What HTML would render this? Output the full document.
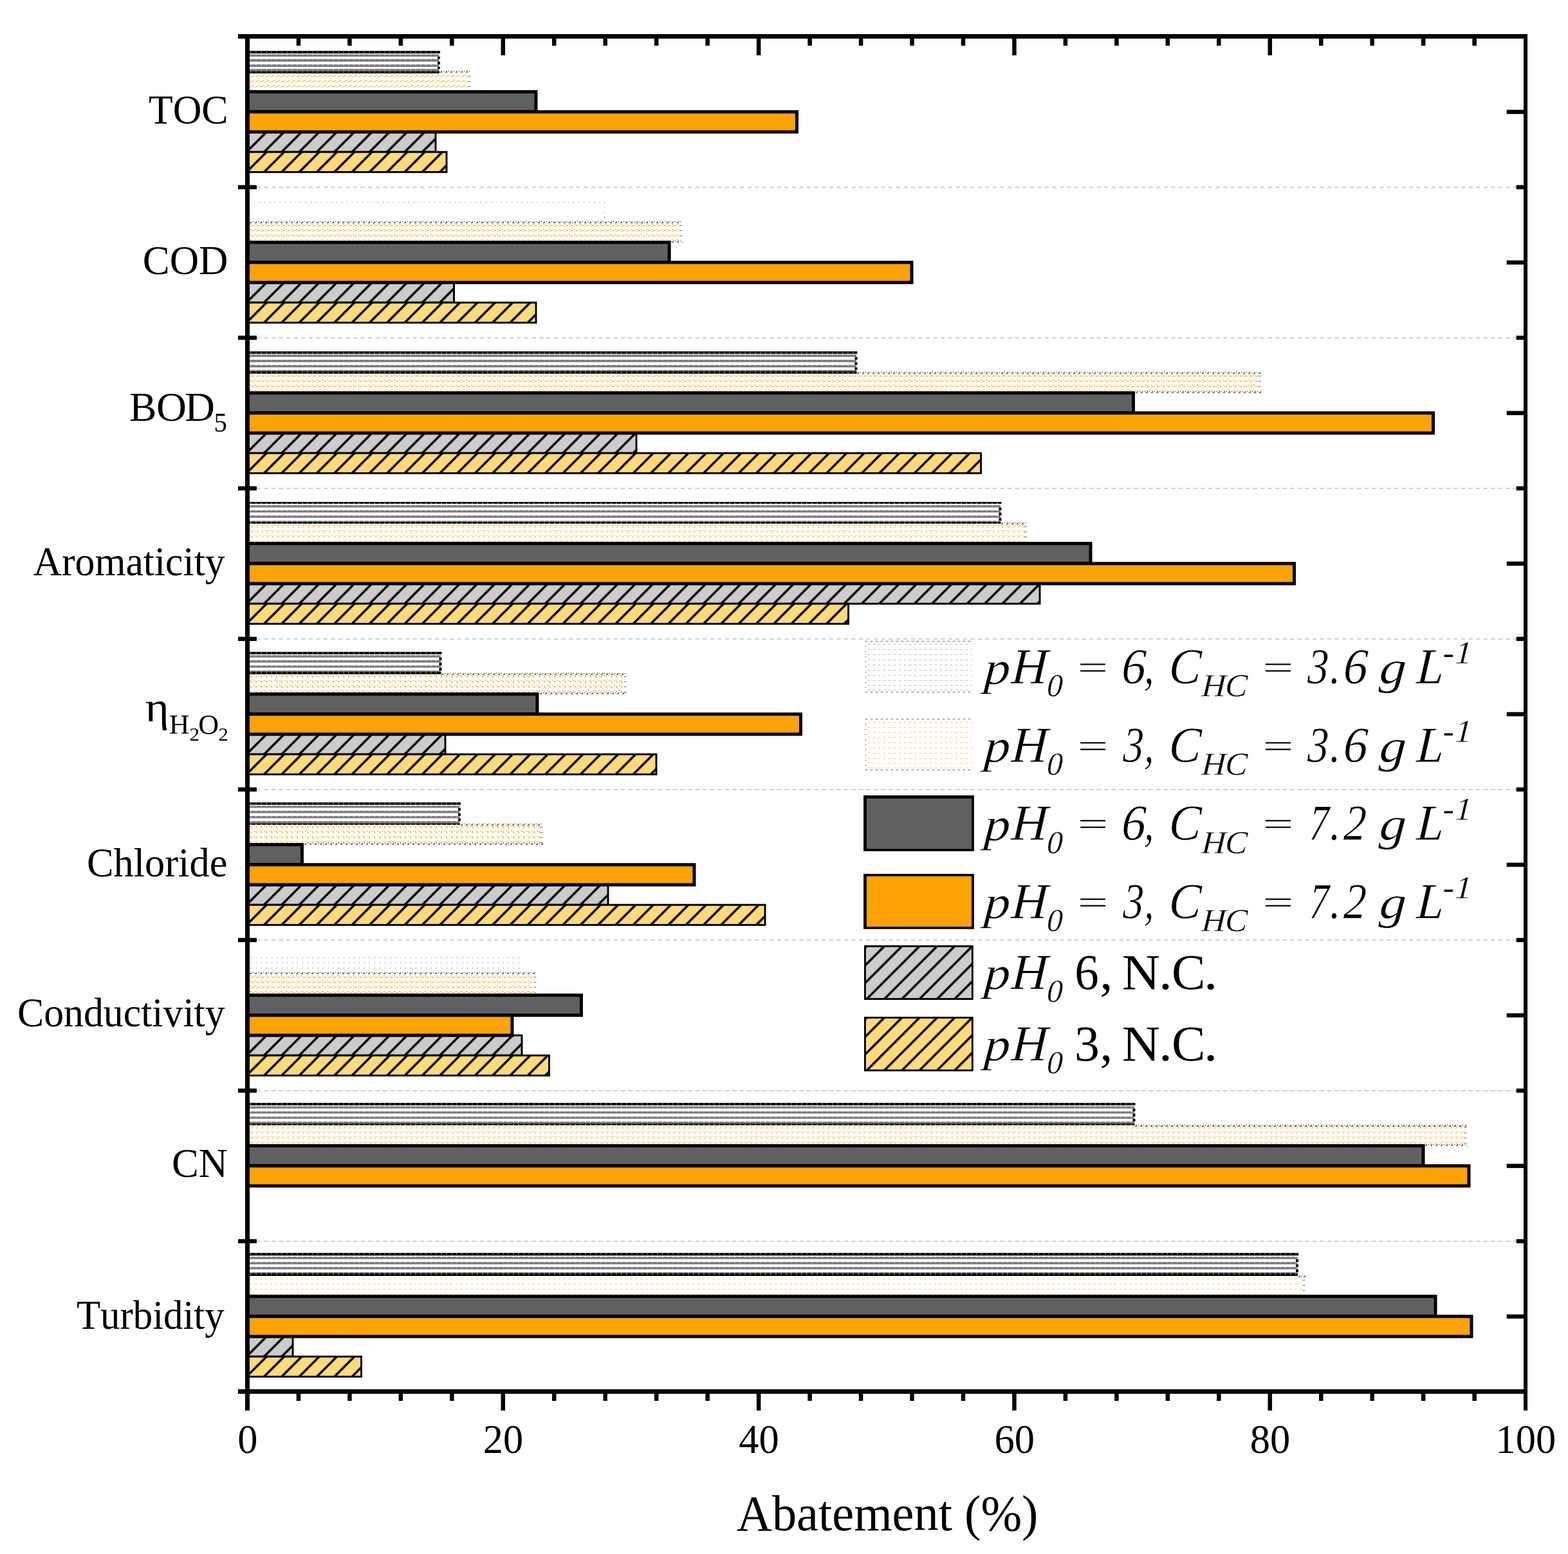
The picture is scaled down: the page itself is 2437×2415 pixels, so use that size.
<!DOCTYPE html>
<html lang="en"><head><meta charset="utf-8"><title>Abatement (%)</title>
<style>
html,body{margin:0;padding:0;background:#fff;}
body{width:2437px;height:2415px;}
svg{display:block;}
text{font-family:"Liberation Serif","DejaVu Serif",serif;fill:#000;font-kerning:none;white-space:pre;}
.it{font-style:italic;stroke:#fff;stroke-width:0.007em;}
</style></head><body>
<svg width="2437" height="2415" viewBox="0 0 2437 2415">
<defs>
<pattern id="hatch" patternUnits="userSpaceOnUse" x="0" y="0" width="27.32" height="27.32">
<path d="M-27.32 27.32 L27.32 -27.32 M0 27.32 L27.32 0 M0 54.64 L54.64 0" stroke="#000" stroke-width="3.5" fill="none" stroke-linecap="square"/>
</pattern>
<pattern id="oA" patternUnits="userSpaceOnUse" x="0" y="0" width="8" height="8">
<rect x="1" y="3" width="1" height="1" fill="#FCA203"/><rect x="2" y="2" width="1" height="1" fill="#FCA203"/><rect x="3" y="2" width="1" height="1" fill="#FCA203"/><rect x="4" y="1" width="1" height="1" fill="#FCA203"/><rect x="5" y="1" width="1" height="1" fill="#FCA203"/><rect x="6" y="0" width="1" height="1" fill="#FCA203"/><rect x="7" y="3" width="1" height="1" fill="#FCA203"/>
</pattern>
<pattern id="oB" patternUnits="userSpaceOnUse" x="0" y="0" width="8" height="8">
<rect x="0" y="0" width="1" height="1" fill="#FCA203"/><rect x="1" y="0" width="1" height="1" fill="#FCA203"/><rect x="3" y="1" width="1" height="1" fill="#FCA203"/><rect x="4" y="2" width="1" height="1" fill="#FCA203"/><rect x="5" y="2" width="1" height="1" fill="#FCA203"/><rect x="6" y="2" width="1" height="1" fill="#FCA203"/><rect x="3" y="3" width="1" height="1" fill="#FCA203"/><rect x="1" y="3" width="1" height="1" fill="#FCA203"/>
</pattern>
<pattern id="oC" patternUnits="userSpaceOnUse" x="0" y="0" width="8" height="8">
<rect x="1" y="0" width="1" height="1" fill="#FCA203"/><rect x="6" y="0" width="1" height="1" fill="#FCA203"/><rect x="3" y="1" width="1" height="1" fill="#FCA203"/><rect x="4" y="1" width="1" height="1" fill="#FCA203"/><rect x="2" y="3" width="1" height="1" fill="#FCA203"/><rect x="4" y="3" width="1" height="1" fill="#FCA203"/>
</pattern>
<pattern id="oD" patternUnits="userSpaceOnUse" x="0" y="0" width="8" height="8">
<rect x="6" y="0" width="1" height="1" fill="#FCA203"/><rect x="7" y="0" width="1" height="1" fill="#FCA203"/><rect x="1" y="1" width="1" height="1" fill="#FCA203"/><rect x="2" y="1" width="1" height="1" fill="#FCA203"/><rect x="2" y="2" width="1" height="1" fill="#FCA203"/><rect x="3" y="3" width="1" height="1" fill="#FCA203"/><rect x="1" y="3" width="1" height="1" fill="#FCA203"/>
</pattern>
<pattern id="oE" patternUnits="userSpaceOnUse" x="0" y="0" width="8" height="8">
<rect x="0" y="0" width="1" height="1" fill="#FCA203"/><rect x="2" y="0" width="1" height="1" fill="#FCA203"/>
</pattern>
<pattern id="gdots" patternUnits="userSpaceOnUse" x="0" y="0" width="8" height="8">
<rect x="0" y="0" width="1" height="1" fill="#8a8a8a"/><rect x="2" y="0" width="1" height="1" fill="#8a8a8a"/>
</pattern>
<pattern id="kedge" patternUnits="userSpaceOnUse" x="0" y="0" width="8" height="8">
<rect x="0" y="2" width="1" height="1" fill="#000"/><rect x="1" y="1" width="1" height="1" fill="#000"/><rect x="2" y="0" width="1" height="1" fill="#000"/><rect x="2" y="2" width="1" height="1" fill="#000"/><rect x="5" y="0" width="1" height="1" fill="#000"/>
</pattern>
<pattern id="kcol" patternUnits="userSpaceOnUse" x="0" y="0" width="8" height="8">
<rect x="0" y="0" width="1" height="1" fill="#000"/>
</pattern>
<pattern id="sdots" patternUnits="userSpaceOnUse" x="0" y="0" width="8" height="8">
<rect x="0" y="0" width="1" height="1" fill="#666"/>
</pattern>
<pattern id="kdots" patternUnits="userSpaceOnUse" x="0" y="0" width="8" height="8">
<rect x="0" y="0" width="1" height="1" fill="#000"/><rect x="2" y="0" width="1" height="1" fill="#000"/>
</pattern>
<pattern id="notch" patternUnits="userSpaceOnUse" x="0" y="0" width="8" height="8">
<rect x="5" y="0" width="1" height="8" fill="#fff"/>
</pattern>
</defs>
<rect x="0" y="0" width="2437" height="2415" fill="#fff"/>
<g stroke="#D0D0D0" stroke-width="2" stroke-dasharray="6.5 5.056" fill="none">
<line x1="398.75" y1="291" x2="2357.1" y2="291"/>
<line x1="398.75" y1="525" x2="2357.1" y2="525"/>
<line x1="398.75" y1="759" x2="2357.1" y2="759"/>
<line x1="398.75" y1="993" x2="2357.1" y2="993"/>
<line x1="398.75" y1="1227" x2="2357.1" y2="1227"/>
<line x1="398.75" y1="1461" x2="2357.1" y2="1461"/>
<line x1="398.75" y1="1695" x2="2357.1" y2="1695"/>
<line x1="398.75" y1="1929" x2="2357.1" y2="1929"/>
</g>
<g transform="translate(384.5 205)">
<clipPath id="c1"><rect x="0" y="0" width="292.55" height="31.2"/></clipPath>
<rect x="0" y="0" width="292.55" height="31.2" fill="#CCCCCC"/>
<g clip-path="url(#c1)"><rect x="-30" y="0" width="352.55" height="31.2" fill="url(#hatch)" transform="translate(2.5 0)"/></g>
<rect x="0" y="0" width="292.55" height="31.2" fill="none" stroke="#000" stroke-width="2.9"/>
</g>
<g transform="translate(384.5 236.2)">
<clipPath id="c2"><rect x="0" y="0" width="309.55" height="31.2"/></clipPath>
<rect x="0" y="0" width="309.55" height="31.2" fill="#FFDA78"/>
<g clip-path="url(#c2)"><rect x="-30" y="0" width="369.55" height="31.2" fill="url(#hatch)" transform="translate(2.5 0)"/></g>
<rect x="0" y="0" width="309.55" height="31.2" fill="none" stroke="#000" stroke-width="2.9"/>
</g>
<g transform="translate(384.5 79.9)">
<rect x="0" y="4.4" width="298" height="3.7" fill="#7c7c7c"/>
<rect x="0" y="4.3" width="297.5" height="1.3" fill="url(#notch)"/>
<rect x="0" y="11.8" width="298" height="4.1" fill="#7c7c7c"/>
<rect x="0" y="11.7" width="297.5" height="1.3" fill="url(#notch)"/>
<rect x="0" y="20.2" width="298" height="3.8" fill="#7c7c7c"/>
<rect x="0" y="20.1" width="297.5" height="1.3" fill="url(#notch)"/>
<rect x="0" y="27.1" width="298" height="3.4" fill="#7c7c7c"/>
<rect x="0" y="27" width="297.5" height="1.3" fill="url(#notch)"/>
<rect x="0" y="-0.9" width="299.5" height="4" fill="#000"/>
<rect x="0" y="0" width="297.5" height="1.6" fill="url(#notch)"/>
<rect x="0" y="30.5" width="298.5" height="3.7" fill="#000"/>
<rect x="0" y="31.4" width="297.5" height="1.6" fill="url(#notch)"/>
<rect x="295.5" y="8.2" width="4" height="3.5" fill="#000"/>
<rect x="295.5" y="16" width="4" height="4.1" fill="#000"/>
<rect x="295.5" y="24.1" width="4" height="2.9" fill="#000"/>
</g>
<g shape-rendering="crispEdges" transform="translate(388 116)">
<rect x="0" y="0" width="339" height="24.2" fill="url(#oA)"/>
</g>
<g shape-rendering="crispEdges" transform="translate(728 118)">
<rect x="0" y="0" width="3" height="22.2" fill="url(#kdots)"/>
</g>
<g shape-rendering="crispEdges" transform="translate(684 110)"><rect x="0" y="0" width="47" height="3" fill="url(#kedge)"/></g>
<rect x="384.5" y="142.6" width="448.5" height="31.2" fill="#606060" stroke="#000" stroke-width="5"/>
<rect x="384.5" y="173.8" width="854" height="31.2" fill="#FCA203" stroke="#000" stroke-width="5"/>
<g transform="translate(384.5 439)">
<clipPath id="c3"><rect x="0" y="0" width="321.05" height="31.2"/></clipPath>
<rect x="0" y="0" width="321.05" height="31.2" fill="#CCCCCC"/>
<g clip-path="url(#c3)"><rect x="-30" y="0" width="381.05" height="31.2" fill="url(#hatch)" transform="translate(2.5 0)"/></g>
<rect x="0" y="0" width="321.05" height="31.2" fill="none" stroke="#000" stroke-width="2.9"/>
</g>
<g transform="translate(384.5 470.2)">
<clipPath id="c4"><rect x="0" y="0" width="448.55" height="31.2"/></clipPath>
<rect x="0" y="0" width="448.55" height="31.2" fill="#FFDA78"/>
<g clip-path="url(#c4)"><rect x="-30" y="0" width="508.55" height="31.2" fill="url(#hatch)" transform="translate(2.5 0)"/></g>
<rect x="0" y="0" width="448.55" height="31.2" fill="none" stroke="#000" stroke-width="2.9"/>
</g>
<g shape-rendering="crispEdges">
<g transform="translate(395 314)"><rect x="0" y="0" width="545" height="1" fill="url(#sdots)"/></g>
<g transform="translate(939 314)"><rect x="0" y="0" width="1" height="31" fill="url(#sdots)"/></g>
</g>
<g shape-rendering="crispEdges" transform="translate(388 348)">
<rect x="0" y="0" width="668" height="26.2" fill="url(#oB)"/>
</g>
<g shape-rendering="crispEdges" transform="translate(1057 350)">
<rect x="0" y="0" width="3" height="24.2" fill="url(#kdots)"/>
</g>
<g shape-rendering="crispEdges" transform="translate(388 344)"><rect x="0" y="0" width="672" height="3" fill="url(#kedge)"/></g>
<g shape-rendering="crispEdges" transform="translate(1044 374)"><rect x="0" y="0" width="17" height="3" fill="url(#kedge)"/></g>
<rect x="384.5" y="376.6" width="655.7" height="31.2" fill="#606060" stroke="#000" stroke-width="5"/>
<rect x="384.5" y="407.8" width="1032.5" height="31.2" fill="#FCA203" stroke="#000" stroke-width="5"/>
<g transform="translate(384.5 673)">
<clipPath id="c5"><rect x="0" y="0" width="604.55" height="31.2"/></clipPath>
<rect x="0" y="0" width="604.55" height="31.2" fill="#CCCCCC"/>
<g clip-path="url(#c5)"><rect x="-30" y="0" width="664.55" height="31.2" fill="url(#hatch)" transform="translate(2.5 0)"/></g>
<rect x="0" y="0" width="604.55" height="31.2" fill="none" stroke="#000" stroke-width="2.9"/>
</g>
<g transform="translate(384.5 704.2)">
<clipPath id="c6"><rect x="0" y="0" width="1140.05" height="31.2"/></clipPath>
<rect x="0" y="0" width="1140.05" height="31.2" fill="#FFDA78"/>
<g clip-path="url(#c6)"><rect x="-30" y="0" width="1200.05" height="31.2" fill="url(#hatch)" transform="translate(2.5 0)"/></g>
<rect x="0" y="0" width="1140.05" height="31.2" fill="none" stroke="#000" stroke-width="2.9"/>
</g>
<g transform="translate(384.5 547.9)">
<rect x="0" y="3" width="946.5" height="3.8" fill="#7c7c7c"/>
<rect x="0" y="2.9" width="946" height="1.3" fill="url(#notch)"/>
<rect x="0" y="11.1" width="946.5" height="3.8" fill="#7c7c7c"/>
<rect x="0" y="11" width="946" height="1.3" fill="url(#notch)"/>
<rect x="0" y="19.3" width="946.5" height="3.7" fill="#7c7c7c"/>
<rect x="0" y="19.2" width="946" height="1.3" fill="url(#notch)"/>
<rect x="0" y="27" width="946.5" height="2.1" fill="#7c7c7c"/>
<rect x="0" y="26.9" width="946" height="1.3" fill="url(#notch)"/>
<rect x="0" y="-1.84" width="948" height="3.74" fill="#000"/>
<rect x="0" y="-0.94" width="946" height="1.6" fill="url(#notch)"/>
<rect x="0" y="29.1" width="947" height="3.7" fill="#000"/>
<rect x="0" y="30" width="946" height="1.6" fill="url(#notch)"/>
<rect x="944" y="6.9" width="4" height="4.1" fill="#000"/>
<rect x="944" y="15" width="4" height="4.2" fill="#000"/>
<rect x="944" y="23.1" width="4" height="3.8" fill="#000"/>
</g>
<g shape-rendering="crispEdges" transform="translate(388 582)">
<rect x="0" y="0" width="1568" height="26.2" fill="url(#oB)"/>
</g>
<g shape-rendering="crispEdges" transform="translate(1956 584)">
<rect x="0" y="0" width="3" height="24.2" fill="url(#kdots)"/>
</g>
<g shape-rendering="crispEdges" transform="translate(1332 578)"><rect x="0" y="0" width="627" height="3" fill="url(#kedge)"/></g>
<g shape-rendering="crispEdges" transform="translate(1765 608)"><rect x="0" y="0" width="195" height="3" fill="url(#kedge)"/></g>
<rect x="384.5" y="610.6" width="1377" height="31.2" fill="#606060" stroke="#000" stroke-width="5"/>
<rect x="384.5" y="641.8" width="1843" height="31.2" fill="#FCA203" stroke="#000" stroke-width="5"/>
<g transform="translate(384.5 907)">
<clipPath id="c7"><rect x="0" y="0" width="1231.55" height="31.2"/></clipPath>
<rect x="0" y="0" width="1231.55" height="31.2" fill="#CCCCCC"/>
<g clip-path="url(#c7)"><rect x="-30" y="0" width="1291.55" height="31.2" fill="url(#hatch)" transform="translate(2.5 0)"/></g>
<rect x="0" y="0" width="1231.55" height="31.2" fill="none" stroke="#000" stroke-width="2.9"/>
</g>
<g transform="translate(384.5 938.2)">
<clipPath id="c8"><rect x="0" y="0" width="934.05" height="31.2"/></clipPath>
<rect x="0" y="0" width="934.05" height="31.2" fill="#FFDA78"/>
<g clip-path="url(#c8)"><rect x="-30" y="0" width="994.05" height="31.2" fill="url(#hatch)" transform="translate(2.5 0)"/></g>
<rect x="0" y="0" width="934.05" height="31.2" fill="none" stroke="#000" stroke-width="2.9"/>
</g>
<g transform="translate(384.5 781.9)">
<rect x="0" y="3.1" width="1170.5" height="3.6" fill="#7c7c7c"/>
<rect x="0" y="3" width="1170" height="1.3" fill="url(#notch)"/>
<rect x="0" y="11.1" width="1170.5" height="3.5" fill="#7c7c7c"/>
<rect x="0" y="11" width="1170" height="1.3" fill="url(#notch)"/>
<rect x="0" y="19.2" width="1170.5" height="3.6" fill="#7c7c7c"/>
<rect x="0" y="19.1" width="1170" height="1.3" fill="url(#notch)"/>
<rect x="0" y="27.4" width="1170.5" height="1.8" fill="#7c7c7c"/>
<rect x="0" y="27.3" width="1170" height="1.3" fill="url(#notch)"/>
<rect x="0" y="-1.9" width="1172" height="2.9" fill="#000"/>
<rect x="0" y="-1" width="1170" height="1.6" fill="url(#notch)"/>
<rect x="0" y="29.2" width="1171" height="2.7" fill="#000"/>
<rect x="0" y="30.1" width="1170" height="1.6" fill="url(#notch)"/>
<rect x="1168" y="6.8" width="4" height="4.2" fill="#000"/>
<rect x="1168" y="14.7" width="4" height="4.4" fill="#000"/>
<rect x="1168" y="22.9" width="4" height="4.4" fill="#000"/>
</g>
<g shape-rendering="crispEdges" transform="translate(388 816)">
<rect x="0" y="0" width="1205" height="26.2" fill="url(#oC)"/>
</g>
<g shape-rendering="crispEdges" transform="translate(1593 818)">
<rect x="0" y="0" width="3" height="24.2" fill="url(#kdots)"/>
</g>
<g shape-rendering="crispEdges" transform="translate(1556 812)"><rect x="0" y="0" width="40" height="3" fill="url(#kedge)"/></g>
<rect x="384.5" y="844.6" width="1310.5" height="31.2" fill="#606060" stroke="#000" stroke-width="5"/>
<rect x="384.5" y="875.8" width="1627" height="31.2" fill="#FCA203" stroke="#000" stroke-width="5"/>
<g transform="translate(384.5 1141)">
<clipPath id="c9"><rect x="0" y="0" width="307.55" height="31.2"/></clipPath>
<rect x="0" y="0" width="307.55" height="31.2" fill="#CCCCCC"/>
<g clip-path="url(#c9)"><rect x="-30" y="0" width="367.55" height="31.2" fill="url(#hatch)" transform="translate(2.5 0)"/></g>
<rect x="0" y="0" width="307.55" height="31.2" fill="none" stroke="#000" stroke-width="2.9"/>
</g>
<g transform="translate(384.5 1172.2)">
<clipPath id="c10"><rect x="0" y="0" width="635.55" height="31.2"/></clipPath>
<rect x="0" y="0" width="635.55" height="31.2" fill="#FFDA78"/>
<g clip-path="url(#c10)"><rect x="-30" y="0" width="695.55" height="31.2" fill="url(#hatch)" transform="translate(2.5 0)"/></g>
<rect x="0" y="0" width="635.55" height="31.2" fill="none" stroke="#000" stroke-width="2.9"/>
</g>
<g transform="translate(384.5 1015.9)">
<rect x="0" y="2.3" width="300.5" height="3.55" fill="#7c7c7c"/>
<rect x="0" y="2.2" width="300" height="1.3" fill="url(#notch)"/>
<rect x="0" y="10" width="300.5" height="3.8" fill="#7c7c7c"/>
<rect x="0" y="9.9" width="300" height="1.3" fill="url(#notch)"/>
<rect x="0" y="18.2" width="300.5" height="3.5" fill="#7c7c7c"/>
<rect x="0" y="18.1" width="300" height="1.3" fill="url(#notch)"/>
<rect x="0" y="26.1" width="300.5" height="2.1" fill="#7c7c7c"/>
<rect x="0" y="26" width="300" height="1.3" fill="url(#notch)"/>
<rect x="0" y="-2.9" width="302" height="3.74" fill="#000"/>
<rect x="0" y="-2" width="300" height="1.6" fill="url(#notch)"/>
<rect x="0" y="28.2" width="301" height="3.7" fill="#000"/>
<rect x="0" y="29.1" width="300" height="1.6" fill="url(#notch)"/>
<rect x="298" y="5.95" width="4" height="3.95" fill="#000"/>
<rect x="298" y="13.9" width="4" height="4.2" fill="#000"/>
<rect x="298" y="21.8" width="4" height="4.2" fill="#000"/>
</g>
<g shape-rendering="crispEdges" transform="translate(388 1049)">
<rect x="0" y="0" width="581" height="27.2" fill="url(#oD)"/>
</g>
<g shape-rendering="crispEdges" transform="translate(970 1051)">
<rect x="0" y="0" width="3" height="25.2" fill="url(#kdots)"/>
</g>
<g shape-rendering="crispEdges" transform="translate(686 1046)"><rect x="0" y="0" width="287" height="3" fill="url(#kedge)"/></g>
<g shape-rendering="crispEdges" transform="translate(839 1076)"><rect x="0" y="0" width="135" height="3" fill="url(#kedge)"/></g>
<rect x="384.5" y="1078.6" width="450.5" height="31.2" fill="#606060" stroke="#000" stroke-width="5"/>
<rect x="384.5" y="1109.8" width="860" height="31.2" fill="#FCA203" stroke="#000" stroke-width="5"/>
<g transform="translate(384.5 1375)">
<clipPath id="c11"><rect x="0" y="0" width="560.55" height="31.2"/></clipPath>
<rect x="0" y="0" width="560.55" height="31.2" fill="#CCCCCC"/>
<g clip-path="url(#c11)"><rect x="-30" y="0" width="620.55" height="31.2" fill="url(#hatch)" transform="translate(2.5 0)"/></g>
<rect x="0" y="0" width="560.55" height="31.2" fill="none" stroke="#000" stroke-width="2.9"/>
</g>
<g transform="translate(384.5 1406.2)">
<clipPath id="c12"><rect x="0" y="0" width="804.55" height="31.2"/></clipPath>
<rect x="0" y="0" width="804.55" height="31.2" fill="#FFDA78"/>
<g clip-path="url(#c12)"><rect x="-30" y="0" width="864.55" height="31.2" fill="url(#hatch)" transform="translate(2.5 0)"/></g>
<rect x="0" y="0" width="804.55" height="31.2" fill="none" stroke="#000" stroke-width="2.9"/>
</g>
<g transform="translate(384.5 1249.9)">
<rect x="0" y="2.3" width="330" height="3.3" fill="#7c7c7c"/>
<rect x="0" y="2.2" width="329.5" height="1.3" fill="url(#notch)"/>
<rect x="0" y="10" width="330" height="3.7" fill="#7c7c7c"/>
<rect x="0" y="9.9" width="329.5" height="1.3" fill="url(#notch)"/>
<rect x="0" y="18.2" width="330" height="3.5" fill="#7c7c7c"/>
<rect x="0" y="18.1" width="329.5" height="1.3" fill="url(#notch)"/>
<rect x="0" y="26.1" width="330" height="3.4" fill="#7c7c7c"/>
<rect x="0" y="26" width="329.5" height="1.3" fill="url(#notch)"/>
<rect x="0" y="-2.9" width="331.5" height="3.74" fill="#000"/>
<rect x="0" y="-2" width="329.5" height="1.6" fill="url(#notch)"/>
<rect x="0" y="29.5" width="330.5" height="2.4" fill="#000"/>
<rect x="0" y="30.4" width="329.5" height="1.6" fill="url(#notch)"/>
<rect x="327.5" y="5.7" width="4" height="4.2" fill="#000"/>
<rect x="327.5" y="13.8" width="4" height="4.3" fill="#000"/>
<rect x="327.5" y="21.8" width="4" height="4.2" fill="#000"/>
</g>
<g shape-rendering="crispEdges" transform="translate(388 1283)">
<rect x="0" y="0" width="452" height="27.2" fill="url(#oD)"/>
</g>
<g shape-rendering="crispEdges" transform="translate(840 1285)">
<rect x="0" y="0" width="3" height="25.2" fill="url(#kdots)"/>
</g>
<g shape-rendering="crispEdges" transform="translate(716 1280)"><rect x="0" y="0" width="128" height="3" fill="url(#kedge)"/></g>
<g shape-rendering="crispEdges" transform="translate(473 1310)"><rect x="0" y="0" width="371" height="3" fill="url(#kedge)"/></g>
<rect x="384.5" y="1312.6" width="85" height="31.2" fill="#606060" stroke="#000" stroke-width="5"/>
<rect x="384.5" y="1343.8" width="694.5" height="31.2" fill="#FCA203" stroke="#000" stroke-width="5"/>
<g transform="translate(384.5 1609)">
<clipPath id="c13"><rect x="0" y="0" width="426.55" height="31.2"/></clipPath>
<rect x="0" y="0" width="426.55" height="31.2" fill="#CCCCCC"/>
<g clip-path="url(#c13)"><rect x="-30" y="0" width="486.55" height="31.2" fill="url(#hatch)" transform="translate(2.5 0)"/></g>
<rect x="0" y="0" width="426.55" height="31.2" fill="none" stroke="#000" stroke-width="2.9"/>
</g>
<g transform="translate(384.5 1640.2)">
<clipPath id="c14"><rect x="0" y="0" width="469.05" height="31.2"/></clipPath>
<rect x="0" y="0" width="469.05" height="31.2" fill="#FFDA78"/>
<g clip-path="url(#c14)"><rect x="-30" y="0" width="529.05" height="31.2" fill="url(#hatch)" transform="translate(2.5 0)"/></g>
<rect x="0" y="0" width="469.05" height="31.2" fill="none" stroke="#000" stroke-width="2.9"/>
</g>
<g shape-rendering="crispEdges" transform="translate(390 1488)">
<rect x="0" y="0" width="416" height="17" fill="url(#sdots)"/>
</g>
<g shape-rendering="crispEdges" transform="translate(806 1488)"><rect x="0" y="0" width="1" height="25" fill="url(#sdots)"/></g>
<g shape-rendering="crispEdges" transform="translate(388 1516)">
<rect x="0" y="0" width="441" height="28.2" fill="url(#oB)"/>
</g>
<g shape-rendering="crispEdges" transform="translate(830 1518)">
<rect x="0" y="0" width="3" height="26.2" fill="url(#kdots)"/>
</g>
<g shape-rendering="crispEdges" transform="translate(388 1511)"><rect x="0" y="0" width="445" height="3" fill="url(#kedge)"/></g>
<rect x="384.5" y="1546.6" width="519" height="31.2" fill="#606060" stroke="#000" stroke-width="5"/>
<rect x="384.5" y="1577.8" width="411.5" height="31.2" fill="#FCA203" stroke="#000" stroke-width="5"/>
<g transform="translate(384.5 1717.9)">
<rect x="0" y="1.3" width="1378.5" height="3.5" fill="#7c7c7c"/>
<rect x="0" y="1.2" width="1378" height="1.3" fill="url(#notch)"/>
<rect x="0" y="9.2" width="1378.5" height="3.5" fill="#7c7c7c"/>
<rect x="0" y="9.1" width="1378" height="1.3" fill="url(#notch)"/>
<rect x="0" y="17.3" width="1378.5" height="3.5" fill="#7c7c7c"/>
<rect x="0" y="17.2" width="1378" height="1.3" fill="url(#notch)"/>
<rect x="0" y="25.1" width="1378.5" height="3.1" fill="#7c7c7c"/>
<rect x="0" y="25" width="1378" height="1.3" fill="url(#notch)"/>
<rect x="0" y="-3.96" width="1380" height="3.76" fill="#000"/>
<rect x="0" y="-3.06" width="1378" height="1.6" fill="url(#notch)"/>
<rect x="0" y="28.2" width="1379" height="2.6" fill="#000"/>
<rect x="0" y="29.1" width="1378" height="1.6" fill="url(#notch)"/>
<rect x="1376" y="4.9" width="4" height="4.2" fill="#000"/>
<rect x="1376" y="12.8" width="4" height="4.4" fill="#000"/>
<rect x="1376" y="20.9" width="4" height="4.1" fill="#000"/>
</g>
<g shape-rendering="crispEdges" transform="translate(388 1750)">
<rect x="0" y="0" width="1888" height="28.2" fill="url(#oC)"/>
</g>
<g shape-rendering="crispEdges" transform="translate(2276 1752)">
<rect x="0" y="0" width="3" height="26.2" fill="url(#kdots)"/>
</g>
<g shape-rendering="crispEdges" transform="translate(1764 1748)"><rect x="0" y="0" width="516" height="3" fill="url(#kedge)"/></g>
<g shape-rendering="crispEdges" transform="translate(2215 1778)"><rect x="0" y="0" width="65" height="3" fill="url(#kedge)"/></g>
<rect x="384.5" y="1780.6" width="1827.5" height="31.2" fill="#606060" stroke="#000" stroke-width="5"/>
<rect x="384.5" y="1811.8" width="1898.5" height="31.2" fill="#FCA203" stroke="#000" stroke-width="5"/>
<g transform="translate(384.5 2077)">
<clipPath id="c15"><rect x="0" y="0" width="70.55" height="31.2"/></clipPath>
<rect x="0" y="0" width="70.55" height="31.2" fill="#CCCCCC"/>
<g clip-path="url(#c15)"><rect x="-30" y="0" width="130.55" height="31.2" fill="url(#hatch)" transform="translate(2.5 0)"/></g>
<rect x="0" y="0" width="70.55" height="31.2" fill="none" stroke="#000" stroke-width="2.9"/>
</g>
<g transform="translate(384.5 2108.2)">
<clipPath id="c16"><rect x="0" y="0" width="177.05" height="31.2"/></clipPath>
<rect x="0" y="0" width="177.05" height="31.2" fill="#FFDA78"/>
<g clip-path="url(#c16)"><rect x="-30" y="0" width="237.05" height="31.2" fill="url(#hatch)" transform="translate(2.5 0)"/></g>
<rect x="0" y="0" width="177.05" height="31.2" fill="none" stroke="#000" stroke-width="2.9"/>
</g>
<g transform="translate(384.5 1951.9)">
<rect x="0" y="1.1" width="1632" height="3.8" fill="#7c7c7c"/>
<rect x="0" y="1" width="1631.5" height="1.3" fill="url(#notch)"/>
<rect x="0" y="9.2" width="1632" height="3.7" fill="#7c7c7c"/>
<rect x="0" y="9.1" width="1631.5" height="1.3" fill="url(#notch)"/>
<rect x="0" y="17" width="1632" height="3.7" fill="#7c7c7c"/>
<rect x="0" y="16.9" width="1631.5" height="1.3" fill="url(#notch)"/>
<rect x="0" y="25.2" width="1632" height="1.4" fill="#7c7c7c"/>
<rect x="0" y="25.1" width="1631.5" height="1.3" fill="url(#notch)"/>
<rect x="0" y="-4.8" width="1633.5" height="4.1" fill="#000"/>
<rect x="0" y="-3.9" width="1631.5" height="1.6" fill="url(#notch)"/>
<rect x="0" y="26.6" width="1632.5" height="4.4" fill="#000"/>
<rect x="0" y="27.5" width="1631.5" height="1.6" fill="url(#notch)"/>
<rect x="1629.5" y="5" width="4" height="4.1" fill="#000"/>
<rect x="1629.5" y="13" width="4" height="3.9" fill="#000"/>
<rect x="1629.5" y="20.8" width="4" height="4.3" fill="#000"/>
</g>
<g shape-rendering="crispEdges" transform="translate(388 1987)">
<rect x="0" y="0" width="1637" height="25.2" fill="url(#oE)"/>
</g>
<g shape-rendering="crispEdges" transform="translate(2025 1989)">
<rect x="0" y="0" width="3" height="23.2" fill="url(#kdots)"/>
</g>
<g shape-rendering="crispEdges" transform="translate(2018 1982)"><rect x="0" y="0" width="11" height="3" fill="url(#kedge)"/></g>
<rect x="384.5" y="2014.6" width="1846.5" height="31.2" fill="#606060" stroke="#000" stroke-width="5"/>
<rect x="384.5" y="2045.8" width="1902.5" height="31.2" fill="#FCA203" stroke="#000" stroke-width="5"/>
<g fill="#000">
<rect x="370" y="53" width="2004" height="7"/>
<rect x="370" y="2159" width="2004" height="7"/>
<rect x="381" y="53" width="7" height="2139"/>
<rect x="2368" y="53" width="6" height="2139"/>
<rect x="460.71" y="59" width="6.5" height="12"/>
<rect x="460.71" y="2165" width="6.5" height="12"/>
<rect x="540.18" y="59" width="6.5" height="12"/>
<rect x="540.18" y="2165" width="6.5" height="12"/>
<rect x="619.64" y="59" width="6.5" height="12"/>
<rect x="619.64" y="2165" width="6.5" height="12"/>
<rect x="699.11" y="59" width="6.5" height="12"/>
<rect x="699.11" y="2165" width="6.5" height="12"/>
<rect x="778.57" y="59" width="6.5" height="27"/>
<rect x="778.57" y="2165" width="6.5" height="27"/>
<rect x="858.03" y="59" width="6.5" height="12"/>
<rect x="858.03" y="2165" width="6.5" height="12"/>
<rect x="937.5" y="59" width="6.5" height="12"/>
<rect x="937.5" y="2165" width="6.5" height="12"/>
<rect x="1016.96" y="59" width="6.5" height="12"/>
<rect x="1016.96" y="2165" width="6.5" height="12"/>
<rect x="1096.43" y="59" width="6.5" height="12"/>
<rect x="1096.43" y="2165" width="6.5" height="12"/>
<rect x="1175.89" y="59" width="6.5" height="27"/>
<rect x="1175.89" y="2165" width="6.5" height="27"/>
<rect x="1255.35" y="59" width="6.5" height="12"/>
<rect x="1255.35" y="2165" width="6.5" height="12"/>
<rect x="1334.82" y="59" width="6.5" height="12"/>
<rect x="1334.82" y="2165" width="6.5" height="12"/>
<rect x="1414.28" y="59" width="6.5" height="12"/>
<rect x="1414.28" y="2165" width="6.5" height="12"/>
<rect x="1493.75" y="59" width="6.5" height="12"/>
<rect x="1493.75" y="2165" width="6.5" height="12"/>
<rect x="1573.21" y="59" width="6.5" height="27"/>
<rect x="1573.21" y="2165" width="6.5" height="27"/>
<rect x="1652.67" y="59" width="6.5" height="12"/>
<rect x="1652.67" y="2165" width="6.5" height="12"/>
<rect x="1732.14" y="59" width="6.5" height="12"/>
<rect x="1732.14" y="2165" width="6.5" height="12"/>
<rect x="1811.6" y="59" width="6.5" height="12"/>
<rect x="1811.6" y="2165" width="6.5" height="12"/>
<rect x="1891.07" y="59" width="6.5" height="12"/>
<rect x="1891.07" y="2165" width="6.5" height="12"/>
<rect x="1970.53" y="59" width="6.5" height="27"/>
<rect x="1970.53" y="2165" width="6.5" height="27"/>
<rect x="2049.99" y="59" width="6.5" height="12"/>
<rect x="2049.99" y="2165" width="6.5" height="12"/>
<rect x="2129.46" y="59" width="6.5" height="12"/>
<rect x="2129.46" y="2165" width="6.5" height="12"/>
<rect x="2208.92" y="59" width="6.5" height="12"/>
<rect x="2208.92" y="2165" width="6.5" height="12"/>
<rect x="2288.39" y="59" width="6.5" height="12"/>
<rect x="2288.39" y="2165" width="6.5" height="12"/>
<rect x="2341.7" y="170.65" width="27" height="6.5"/>
<rect x="2341.7" y="404.65" width="27" height="6.5"/>
<rect x="370" y="287.65" width="28.9" height="6.5"/>
<rect x="2356.7" y="287.65" width="12" height="6.5"/>
<rect x="2341.7" y="638.65" width="27" height="6.5"/>
<rect x="370" y="521.65" width="28.9" height="6.5"/>
<rect x="2356.7" y="521.65" width="12" height="6.5"/>
<rect x="2341.7" y="872.65" width="27" height="6.5"/>
<rect x="370" y="755.65" width="28.9" height="6.5"/>
<rect x="2356.7" y="755.65" width="12" height="6.5"/>
<rect x="2341.7" y="1106.65" width="27" height="6.5"/>
<rect x="370" y="989.65" width="28.9" height="6.5"/>
<rect x="2356.7" y="989.65" width="12" height="6.5"/>
<rect x="2341.7" y="1340.65" width="27" height="6.5"/>
<rect x="370" y="1223.65" width="28.9" height="6.5"/>
<rect x="2356.7" y="1223.65" width="12" height="6.5"/>
<rect x="2341.7" y="1574.65" width="27" height="6.5"/>
<rect x="370" y="1457.65" width="28.9" height="6.5"/>
<rect x="2356.7" y="1457.65" width="12" height="6.5"/>
<rect x="2341.7" y="1808.65" width="27" height="6.5"/>
<rect x="370" y="1691.65" width="28.9" height="6.5"/>
<rect x="2356.7" y="1691.65" width="12" height="6.5"/>
<rect x="2341.7" y="2042.65" width="27" height="6.5"/>
<rect x="370" y="1925.65" width="28.9" height="6.5"/>
<rect x="2356.7" y="1925.65" width="12" height="6.5"/>
</g>
<g text-anchor="middle" font-size="62.5px">
<text x="384.8" y="2258">0</text>
<text x="782.12" y="2258">20</text>
<text x="1179.44" y="2258">40</text>
<text x="1576.76" y="2258">60</text>
<text x="1974.08" y="2258">80</text>
<text x="2371.4" y="2258">100</text>
</g>
<text transform="translate(1144.75 2377.7) scale(0.986 1)" font-size="77.5px">Abatement (%)</text>
<text transform="translate(230.88 192) scale(0.9903 1)" font-size="62.5px">TOC</text>
<text transform="translate(221.67 425.75) scale(1.0068 1)" font-size="62.5px">COD</text>
<text transform="translate(51.4 893.75) scale(0.9879 1)" font-size="62.5px">Aromaticity</text>
<text transform="translate(134.94 1361.75) scale(0.9989 1)" font-size="62.5px">Chloride</text>
<text transform="translate(26.96 1595) scale(0.9889 1)" font-size="62.5px">Conductivity</text>
<text transform="translate(266.93 1829.25) scale(1.0021 1)" font-size="62.5px">CN</text>
<text transform="translate(118.9 2065) scale(0.9735 1)" font-size="62.5px">Turbidity</text>
<text transform="translate(201.07 653.85) scale(1.017 1)" font-size="62.4px">B</text><text transform="translate(242.93 653.85) scale(1.0414 1)" font-size="62.4px">O</text><text transform="translate(287.14 653.85) scale(1.0351 1)" font-size="62.4px">D</text><text transform="translate(332.52 670.68) scale(0.9635 1)" font-size="42.51px">5</text>
<text transform="translate(225.69 1121.21) scale(1.0926 1)" font-size="64.76px">η</text><text transform="translate(262.74 1139.98) scale(1.0267 1)" font-size="42.62px">H</text><text transform="translate(294.54 1151) scale(1.0723 1)" font-size="28.85px">2</text><text transform="translate(308.15 1140.76) scale(0.975 1)" font-size="45.25px">O</text><text transform="translate(339.51 1151) scale(1.0593 1)" font-size="28.85px">2</text>
<g shape-rendering="crispEdges">
<g transform="translate(1345 996)"><rect x="0" y="0" width="163" height="1" fill="url(#kdots)"/></g>
<g transform="translate(1345 1075)"><rect x="0" y="0" width="163" height="1" fill="url(#kdots)"/></g>
<g transform="translate(1349 1001)"><rect x="0" y="0" width="161" height="65" fill="url(#gdots)"/></g>
<g transform="translate(1349 1072)"><rect x="0" y="0" width="161" height="1" fill="url(#gdots)"/></g>
<g transform="translate(1345 1004)"><rect x="0" y="0" width="1" height="66" fill="url(#kcol)"/></g>
</g>
<g shape-rendering="crispEdges">
<g transform="translate(1345 1117)"><rect x="0" y="0" width="163" height="1" fill="url(#kdots)"/></g>
<g transform="translate(1345 1196)"><rect x="0" y="0" width="163" height="1" fill="url(#kdots)"/></g>
<g transform="translate(1349 1122)"><rect x="0" y="0" width="161" height="65" fill="url(#oE)"/></g>
<g transform="translate(1349 1193)"><rect x="0" y="0" width="161" height="1" fill="url(#oE)"/></g>
<g transform="translate(1345 1125)"><rect x="0" y="0" width="1" height="66" fill="url(#kcol)"/></g>
</g>
<rect x="1342.1" y="1236.1" width="171.8" height="86.7" fill="#000"/>
<rect x="1346.9" y="1240.9" width="163.1" height="78.3" fill="#606060"/>
<rect x="1342.1" y="1358.06" width="171.8" height="85.74" fill="#000"/>
<rect x="1346.9" y="1361.8" width="163.1" height="78.3" fill="#FCA203"/>
<g transform="translate(1344.45 1470.5)">
<clipPath id="c17"><rect x="0" y="0" width="166.9" height="81.95"/></clipPath>
<rect x="0" y="0" width="166.9" height="81.95" fill="#CCCCCC"/>
<g clip-path="url(#c17)"><rect x="-30" y="0" width="226.9" height="81.95" fill="url(#hatch)" transform="translate(2.7 0)"/></g>
<rect x="0" y="0" width="166.9" height="81.95" fill="none" stroke="#000" stroke-width="2.85"/>
</g>
<g transform="translate(1344.45 1581.5)">
<clipPath id="c18"><rect x="0" y="0" width="166.9" height="81.95"/></clipPath>
<rect x="0" y="0" width="166.9" height="81.95" fill="#FFDA78"/>
<g clip-path="url(#c18)"><rect x="-30" y="0" width="226.9" height="81.95" fill="url(#hatch)" transform="translate(2.7 0)"/></g>
<rect x="0" y="0" width="166.9" height="81.95" fill="none" stroke="#000" stroke-width="2.85"/>
</g>
<text class="it" transform="translate(1528.84 1062.61) scale(1.0309 0.933) skewX(-3)" font-size="78.5px">p</text><text class="it" transform="translate(1571.04 1062.2) scale(0.9913 1) skewX(-3)" font-size="78.5px">H</text><text class="it" transform="translate(1626.44 1082.4) scale(0.9825 1) skewX(-3)" font-size="50px">0</text> <text class="it" transform="translate(1669.19 1055.38) scale(1.0759 0.6696)" font-size="78.5px">=</text> <text class="it" transform="translate(1742.13 1062.2) scale(0.9612 1) skewX(-3)" font-size="78.5px">6</text><text class="it" transform="translate(1778.31 1062.2) scale(0.7573 1) skewX(-3)" font-size="78.5px">,</text> <text class="it" transform="translate(1815.86 1062.2) scale(0.9557 1) skewX(-3)" font-size="78.5px">C</text><text class="it" transform="translate(1867.06 1082.4) scale(1.0392 1) skewX(-3)" font-size="50px">H</text><text class="it" transform="translate(1903.56 1082.4) scale(1.0325 1) skewX(-3)" font-size="50px">C</text> <text class="it" transform="translate(1956.92 1055.38) scale(1.0841 0.6696)" font-size="78.5px">=</text> <text class="it" transform="translate(2031.73 1062.2) scale(0.8213 1) skewX(-3)" font-size="78.5px">3</text><text class="it" transform="translate(2066.62 1062.2) scale(0.8395 1) skewX(-3)" font-size="78.5px">.</text><text class="it" transform="translate(2087.02 1062.2) scale(0.9639 1) skewX(-3)" font-size="78.5px">6</text> <text class="it" transform="translate(2142.74 1062.22) scale(1.0658 0.9262) skewX(-3)" font-size="78.5px">g</text> <text class="it" transform="translate(2200.79 1062.2) scale(0.9704 1) skewX(-3)" font-size="78.5px">L</text><text class="it" transform="translate(2241.68 1031.1) scale(1.0619 1) skewX(-3)" font-size="50px">-</text><text class="it" transform="translate(2260.97 1031.1) scale(1.0283 1) skewX(-3)" font-size="50px">1</text>
<text class="it" transform="translate(1528.84 1184.21) scale(1.0309 0.933) skewX(-3)" font-size="78.5px">p</text><text class="it" transform="translate(1571.04 1183.8) scale(0.9913 1) skewX(-3)" font-size="78.5px">H</text><text class="it" transform="translate(1626.44 1204) scale(0.9825 1) skewX(-3)" font-size="50px">0</text> <text class="it" transform="translate(1669.19 1176.98) scale(1.0759 0.6696)" font-size="78.5px">=</text> <text class="it" transform="translate(1744.93 1183.8) scale(0.8058 1) skewX(-3)" font-size="78.5px">3</text><text class="it" transform="translate(1778.31 1183.8) scale(0.7573 1) skewX(-3)" font-size="78.5px">,</text> <text class="it" transform="translate(1815.86 1183.8) scale(0.9557 1) skewX(-3)" font-size="78.5px">C</text><text class="it" transform="translate(1867.06 1204) scale(1.0392 1) skewX(-3)" font-size="50px">H</text><text class="it" transform="translate(1903.56 1204) scale(1.0325 1) skewX(-3)" font-size="50px">C</text> <text class="it" transform="translate(1956.92 1176.98) scale(1.0841 0.6696)" font-size="78.5px">=</text> <text class="it" transform="translate(2031.73 1183.8) scale(0.8213 1) skewX(-3)" font-size="78.5px">3</text><text class="it" transform="translate(2066.62 1183.8) scale(0.8395 1) skewX(-3)" font-size="78.5px">.</text><text class="it" transform="translate(2087.02 1183.8) scale(0.9639 1) skewX(-3)" font-size="78.5px">6</text> <text class="it" transform="translate(2142.74 1183.82) scale(1.0658 0.9262) skewX(-3)" font-size="78.5px">g</text> <text class="it" transform="translate(2200.79 1183.8) scale(0.9704 1) skewX(-3)" font-size="78.5px">L</text><text class="it" transform="translate(2241.68 1152.7) scale(1.0619 1) skewX(-3)" font-size="50px">-</text><text class="it" transform="translate(2260.97 1152.7) scale(1.0283 1) skewX(-3)" font-size="50px">1</text>
<text class="it" transform="translate(1528.84 1305.71) scale(1.0309 0.933) skewX(-3)" font-size="78.5px">p</text><text class="it" transform="translate(1571.04 1305.3) scale(0.9913 1) skewX(-3)" font-size="78.5px">H</text><text class="it" transform="translate(1626.44 1325.5) scale(0.9825 1) skewX(-3)" font-size="50px">0</text> <text class="it" transform="translate(1669.19 1298.48) scale(1.0759 0.6696)" font-size="78.5px">=</text> <text class="it" transform="translate(1742.13 1305.3) scale(0.9612 1) skewX(-3)" font-size="78.5px">6</text><text class="it" transform="translate(1778.31 1305.3) scale(0.7573 1) skewX(-3)" font-size="78.5px">,</text> <text class="it" transform="translate(1815.86 1305.3) scale(0.9557 1) skewX(-3)" font-size="78.5px">C</text><text class="it" transform="translate(1867.06 1325.5) scale(1.0392 1) skewX(-3)" font-size="50px">H</text><text class="it" transform="translate(1903.56 1325.5) scale(1.0325 1) skewX(-3)" font-size="50px">C</text> <text class="it" transform="translate(1956.92 1298.48) scale(1.0841 0.6696)" font-size="78.5px">=</text> <text class="it" transform="translate(2034.52 1305.3) scale(0.757 1) skewX(-3)" font-size="78.5px">7</text><text class="it" transform="translate(2066.75 1305.3) scale(0.8288 1) skewX(-3)" font-size="78.5px">.</text><text class="it" transform="translate(2087.67 1305.3) scale(0.8827 1) skewX(-3)" font-size="78.5px">2</text> <text class="it" transform="translate(2142.74 1305.32) scale(1.0658 0.9262) skewX(-3)" font-size="78.5px">g</text> <text class="it" transform="translate(2200.79 1305.3) scale(0.9704 1) skewX(-3)" font-size="78.5px">L</text><text class="it" transform="translate(2241.68 1274.2) scale(1.0619 1) skewX(-3)" font-size="50px">-</text><text class="it" transform="translate(2260.97 1274.2) scale(1.0283 1) skewX(-3)" font-size="50px">1</text>
<text class="it" transform="translate(1528.84 1427.31) scale(1.0309 0.933) skewX(-3)" font-size="78.5px">p</text><text class="it" transform="translate(1571.04 1426.9) scale(0.9913 1) skewX(-3)" font-size="78.5px">H</text><text class="it" transform="translate(1626.44 1447.1) scale(0.9825 1) skewX(-3)" font-size="50px">0</text> <text class="it" transform="translate(1669.19 1420.08) scale(1.0759 0.6696)" font-size="78.5px">=</text> <text class="it" transform="translate(1744.93 1426.9) scale(0.8058 1) skewX(-3)" font-size="78.5px">3</text><text class="it" transform="translate(1778.31 1426.9) scale(0.7573 1) skewX(-3)" font-size="78.5px">,</text> <text class="it" transform="translate(1815.86 1426.9) scale(0.9557 1) skewX(-3)" font-size="78.5px">C</text><text class="it" transform="translate(1867.06 1447.1) scale(1.0392 1) skewX(-3)" font-size="50px">H</text><text class="it" transform="translate(1903.56 1447.1) scale(1.0325 1) skewX(-3)" font-size="50px">C</text> <text class="it" transform="translate(1956.92 1420.08) scale(1.0841 0.6696)" font-size="78.5px">=</text> <text class="it" transform="translate(2034.52 1426.9) scale(0.757 1) skewX(-3)" font-size="78.5px">7</text><text class="it" transform="translate(2066.75 1426.9) scale(0.8288 1) skewX(-3)" font-size="78.5px">.</text><text class="it" transform="translate(2087.67 1426.9) scale(0.8827 1) skewX(-3)" font-size="78.5px">2</text> <text class="it" transform="translate(2142.74 1426.92) scale(1.0658 0.9262) skewX(-3)" font-size="78.5px">g</text> <text class="it" transform="translate(2200.79 1426.9) scale(0.9704 1) skewX(-3)" font-size="78.5px">L</text><text class="it" transform="translate(2241.68 1395.8) scale(1.0619 1) skewX(-3)" font-size="50px">-</text><text class="it" transform="translate(2260.97 1395.8) scale(1.0283 1) skewX(-3)" font-size="50px">1</text>
<text class="it" transform="translate(1528.84 1537.41) scale(1.0309 0.933) skewX(-3)" font-size="78.5px">p</text><text class="it" transform="translate(1571.04 1537) scale(0.9913 1) skewX(-3)" font-size="78.5px">H</text><text class="it" transform="translate(1626.44 1557.2) scale(0.9825 1) skewX(-3)" font-size="50px">0</text> <text transform="translate(1670.37 1537) scale(0.9571 1)" font-size="78.5px">6</text><text transform="translate(1709.48 1537) scale(1.0094 1)" font-size="78.5px">,</text> <text transform="translate(1743.64 1537) scale(1.0432 1)" font-size="78.5px">N</text><text transform="translate(1800.98 1537) scale(1.0673 1)" font-size="78.5px">.</text><text transform="translate(1821.07 1537) scale(1.0021 1)" font-size="78.5px">C</text><text transform="translate(1870.75 1537) scale(1.1104 1)" font-size="78.5px">.</text>
<text class="it" transform="translate(1528.84 1648.41) scale(1.0309 0.933) skewX(-3)" font-size="78.5px">p</text><text class="it" transform="translate(1571.04 1648) scale(0.9913 1) skewX(-3)" font-size="78.5px">H</text><text class="it" transform="translate(1626.44 1668.2) scale(0.9825 1) skewX(-3)" font-size="50px">0</text> <text transform="translate(1669.88 1648) scale(0.9899 1)" font-size="78.5px">3</text><text transform="translate(1709.48 1648) scale(1.0094 1)" font-size="78.5px">,</text> <text transform="translate(1743.64 1648) scale(1.0432 1)" font-size="78.5px">N</text><text transform="translate(1800.98 1648) scale(1.0673 1)" font-size="78.5px">.</text><text transform="translate(1821.07 1648) scale(1.0021 1)" font-size="78.5px">C</text><text transform="translate(1870.75 1648) scale(1.1104 1)" font-size="78.5px">.</text>
</svg>
</body></html>
